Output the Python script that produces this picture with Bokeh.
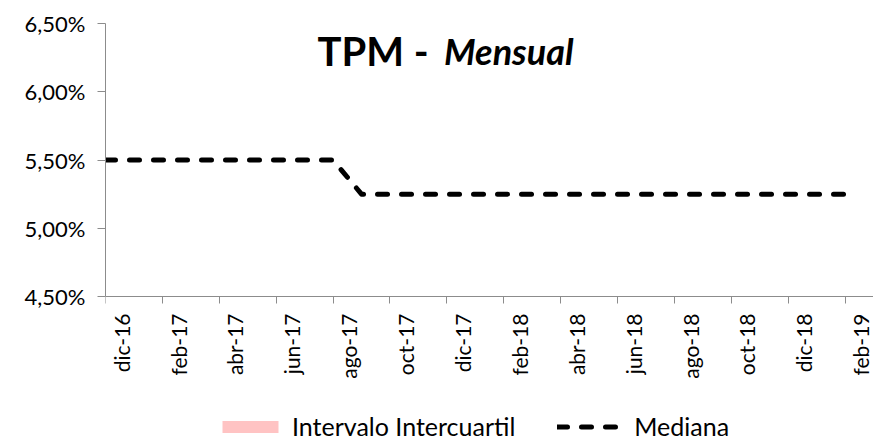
import math
from bokeh.plotting import figure
from bokeh.models import (Range1d, LinearAxis, FixedTicker, Label, Legend, LegendItem)
from bokeh.embed import file_html
from bokeh.resources import INLINE

# ---- data ----
months = ["dic-16", "ene-17", "feb-17", "mar-17", "abr-17", "may-17", "jun-17", "jul-17",
          "ago-17", "sep-17", "oct-17", "nov-17", "dic-17", "ene-18", "feb-18", "mar-18",
          "abr-18", "may-18", "jun-18", "jul-18", "ago-18", "sep-18", "oct-18", "nov-18",
          "dic-18", "ene-19", "feb-19"]
mediana = [5.50, 5.50, 5.50, 5.50, 5.50, 5.50, 5.50, 5.50, 5.50,
           5.25, 5.25, 5.25, 5.25, 5.25, 5.25, 5.25, 5.25, 5.25,
           5.25, 5.25, 5.25, 5.25, 5.25, 5.25, 5.25, 5.25, 5.25]
q1 = list(mediana)
q3 = list(mediana)
y_ticks = [4.5, 5.0, 5.5, 6.0, 6.5]
y_labels = ["4,50%", "5,00%", "5,50%", "6,00%", "6,50%"]

FONT = "Lato"
idx = list(range(len(months)))
X_END = 27
Y_MIN, Y_MAX = y_ticks[0], y_ticks[-1]
# the frame runs down to the bottom of the canvas so that the legend can sit under the axis
Y_FLOOR = Y_MIN - (441 - 296) / (296 - 23) * (Y_MAX - Y_MIN)

p = figure(width=873, height=441, output_backend="svg", toolbar_location=None,
           x_range=Range1d(0, X_END), y_range=Range1d(Y_FLOOR, Y_MAX),
           x_axis_location=None, y_axis_location=None,
           min_border_left=105, min_border_right=0, min_border_top=23, min_border_bottom=0)
p.outline_line_color = None
p.xgrid.visible = False
p.ygrid.visible = False
p.background_fill_color = "white"

AXIS_COLOR = "#8C8C8C"

# y axis
yax = LinearAxis(ticker=FixedTicker(ticks=y_ticks), bounds=(Y_MIN, Y_MAX),
                 major_label_overrides={t: l for t, l in zip(y_ticks, y_labels)})
yax.axis_line_color = AXIS_COLOR
yax.major_tick_line_color = AXIS_COLOR
yax.major_tick_out = 8
yax.major_tick_in = 0
yax.minor_tick_out = 0
yax.minor_tick_in = 0
yax.major_label_text_font = FONT
yax.major_label_text_font_size = "22px"
yax.major_label_text_color = "black"
yax.major_label_standoff = 12
p.add_layout(yax, "left")

# x axis: line and tick marks, fixed at the bottom of the value range
xticks = [i for i in idx if i % 2 == 0]
xax = LinearAxis(ticker=FixedTicker(ticks=xticks), fixed_location=Y_MIN,
                 major_label_overrides={i: "" for i in xticks})
xax.axis_line_color = AXIS_COLOR
xax.major_tick_line_color = AXIS_COLOR
xax.major_tick_out = 7
xax.major_tick_in = 0
xax.minor_tick_out = 0
xax.minor_tick_in = 0
xax.major_label_text_font_size = "1px"
xax.major_label_standoff = 0
p.add_layout(xax, "below")

# x axis labels (offset about half a month, like the original)
p.extra_x_ranges = {"lab": Range1d(-0.55, X_END - 0.55)}
lax = LinearAxis(x_range_name="lab", ticker=FixedTicker(ticks=xticks), fixed_location=Y_MIN,
                 major_label_overrides={i: months[i] for i in xticks})
lax.axis_line_alpha = 0
lax.major_tick_out = 0
lax.major_tick_in = 0
lax.minor_tick_out = 0
lax.minor_tick_in = 0
lax.major_label_orientation = math.pi / 2
lax.major_label_text_font = FONT
lax.major_label_text_font_size = "21px"
lax.major_label_text_color = "black"
lax.major_label_standoff = 17
p.add_layout(lax, "below")

# series
band = p.varea(x=idx, y1=q1, y2=q3, fill_color="#FFC3C3")
med = p.line(x=idx, y=mediana, line_color="black", line_width=5,
             line_dash="10 14", line_cap="round", line_join="round")

legend = Legend(items=[LegendItem(label="Intervalo Intercuartil", renderers=[band]),
                       LegendItem(label="Mediana", renderers=[med])],
                orientation="horizontal", location=(110, 0))
legend.label_text_font = FONT
legend.label_text_font_size = "25px"
legend.label_text_color = "black"
legend.glyph_width = 70
legend.glyph_height = 15
legend.label_standoff = 7
legend.spacing = 42
legend.padding = 0
legend.margin = 0
legend.border_line_alpha = 0
legend.background_fill_alpha = 0
p.add_layout(legend, "center")

# title inside the plot
t1 = Label(x=7.45, y=6.30, text="TPM -", text_font=FONT, text_font_style="bold",
           text_font_size="40px", text_color="black", text_align="left",
           text_baseline="alphabetic")
t2 = Label(x=11.9, y=6.30, text="Mensual", text_font=FONT, text_font_style="bold italic",
           text_font_size="36px", text_color="black", text_align="left",
           text_baseline="alphabetic")
p.add_layout(t1)
p.add_layout(t2)

open("out.html", "w").write(file_html(p, INLINE))
